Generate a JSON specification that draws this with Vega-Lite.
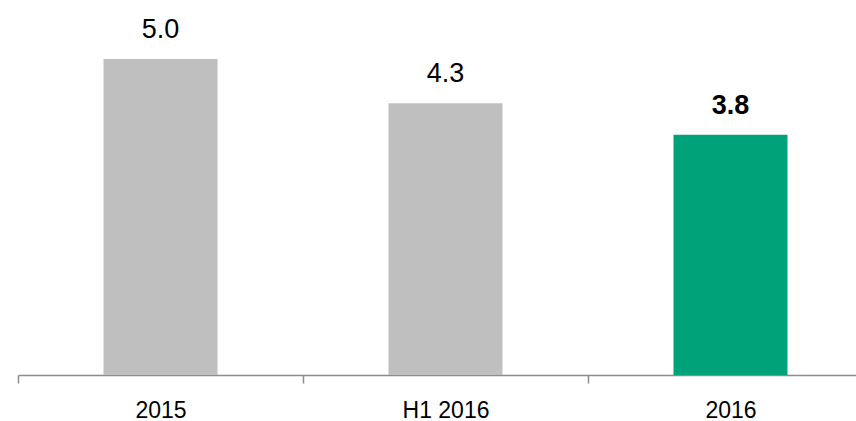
{
  "$schema": "https://vega.github.io/schema/vega-lite/v6.json",
  "autosize": "none",
  "width": 855,
  "height": 375,
  "padding": {"left": 18, "top": 0, "right": 0, "bottom": 46},
  "background": "white",
  "config": {"view": {"stroke": null}},
  "data": {
    "values": [
      {"period": "2015", "value": 5.0, "highlight": "no"},
      {"period": "H1 2016", "value": 4.3, "highlight": "no"},
      {"period": "2016", "value": 3.8, "highlight": "yes"}
    ]
  },
  "encoding": {
    "x": {
      "field": "period",
      "type": "nominal",
      "sort": null,
      "scale": {"paddingInner": 0.6, "paddingOuter": 0.3},
      "axis": {
        "title": null,
        "labelAngle": 0,
        "labelFont": "Liberation Sans",
        "labelFontSize": 23,
        "labelColor": "#000000",
        "labelBaseline": "alphabetic",
        "labelPadding": 34,
        "tickOffset": -142.5,
        "labelOffset": 142.5,
        "tickSize": 8,
        "tickColor": "#8C8C8C",
        "tickWidth": 1.5,
        "domainColor": "#8C8C8C",
        "domainWidth": 1.5,
        "grid": false
      }
    },
    "y": {
      "field": "value",
      "type": "quantitative",
      "scale": {"domain": [0, 5.934], "nice": false, "zero": true},
      "axis": null
    }
  },
  "layer": [
    {
      "mark": {"type": "bar"},
      "encoding": {
        "color": {
          "field": "highlight",
          "type": "nominal",
          "scale": {"domain": ["no", "yes"], "range": ["#BFBFBF", "#00A27A"]},
          "legend": null
        }
      }
    },
    {
      "transform": [{"filter": "datum.highlight === 'no'"}],
      "mark": {
        "type": "text",
        "baseline": "alphabetic",
        "dy": -21,
        "font": "Liberation Sans",
        "fontSize": 27,
        "fontWeight": "normal",
        "color": "#000000"
      },
      "encoding": {
        "text": {"field": "value", "type": "quantitative", "format": ".1f"}
      }
    },
    {
      "transform": [{"filter": "datum.highlight === 'yes'"}],
      "mark": {
        "type": "text",
        "baseline": "alphabetic",
        "dy": -21,
        "font": "Liberation Sans",
        "fontSize": 27,
        "fontWeight": "bold",
        "color": "#000000"
      },
      "encoding": {
        "text": {"field": "value", "type": "quantitative", "format": ".1f"}
      }
    }
  ]
}
